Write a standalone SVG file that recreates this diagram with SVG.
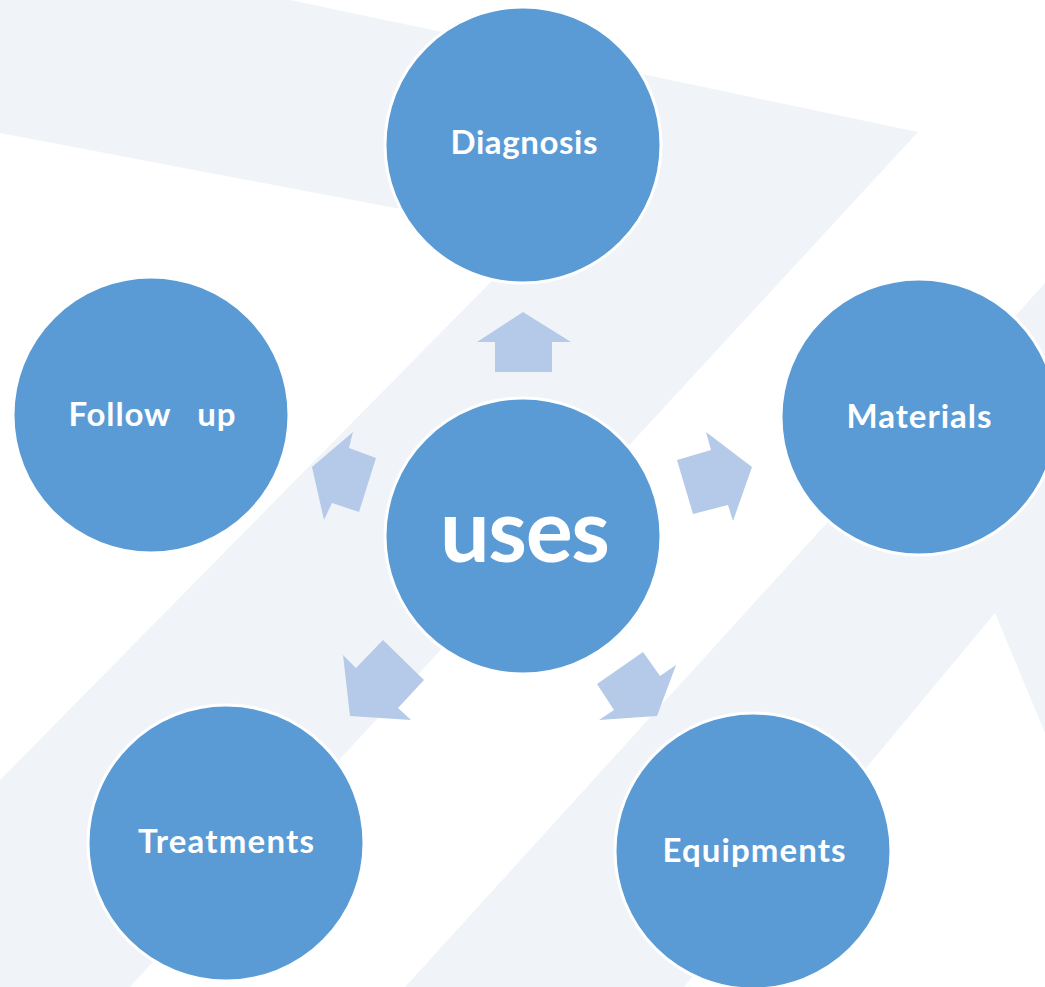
<svg xmlns="http://www.w3.org/2000/svg" width="1045" height="987" viewBox="0 0 1045 987">
  <style>
    .bg { fill: #F0F4F8; }
    .node { fill: #5B9BD5; stroke: #FFFFFF; stroke-width: 3; }
    .arrow { fill: #B5CAE8; stroke: none; }
    .label { font-family: Lato, "Liberation Sans", sans-serif; font-weight: bold; font-size: 33px; fill: #FFFFFF; text-anchor: middle; }
    .big { font-family: Lato, "Liberation Sans", sans-serif; font-weight: bold; font-size: 88px; fill: #FFFFFF; text-anchor: middle; }
  </style>
  <rect x="0" y="0" width="1045" height="987" fill="#FFFFFF"/>
  <g id="background">
    <polygon class="bg" points="0,0 290,0 918,132 130,987 0,987 0,780 537,235 0,133"/>
    <polygon class="bg" points="1045,283 405,987 684,987 995,613 1045,733"/>
  </g>
  <g id="connectors">
    <polygon class="arrow" points="523,312 571,342 552,342 552,372 495,372 495,342 477,342"/>
    <polygon class="arrow" points="706,432 752,467 733,521 728,505 693,514 677,460 711,450"/>
    <polygon class="arrow" points="353,432 349,448 376,458 359,512 332,503 324,520 312,467"/>
    <polygon class="arrow" points="383,640 424,680 398,708 411,720 350,716 343,655 356,668"/>
    <polygon class="arrow" points="643,652 660,676 676,665 657,716 599,720 614,710 597,684"/>
  </g>
  <g id="node-diagnosis">
    <circle class="node" cx="523" cy="145" r="138"/>
    <text class="label" x="524" y="154" textLength="147">Diagnosis</text>
  </g>
  <g id="node-materials">
    <circle class="node" cx="919" cy="417" r="138"/>
    <text class="label" x="919" y="428" textLength="145">Materials</text>
  </g>
  <g id="node-equipments">
    <circle class="node" cx="753" cy="851" r="138"/>
    <text class="label" x="754" y="862" textLength="183">Equipments</text>
  </g>
  <g id="node-treatments">
    <circle class="node" cx="226" cy="843" r="138"/>
    <text class="label" x="226" y="853" textLength="176">Treatments</text>
  </g>
  <g id="node-followup">
    <circle class="node" cx="151" cy="415" r="138"/>
    <text class="label" x="152" y="426" textLength="167" xml:space="preserve" style="white-space:pre">Follow   up</text>
  </g>
  <g id="node-uses">
    <circle class="node" cx="523" cy="536" r="138"/>
    <text class="big" x="525" y="562" textLength="170">uses</text>
  </g>
</svg>
